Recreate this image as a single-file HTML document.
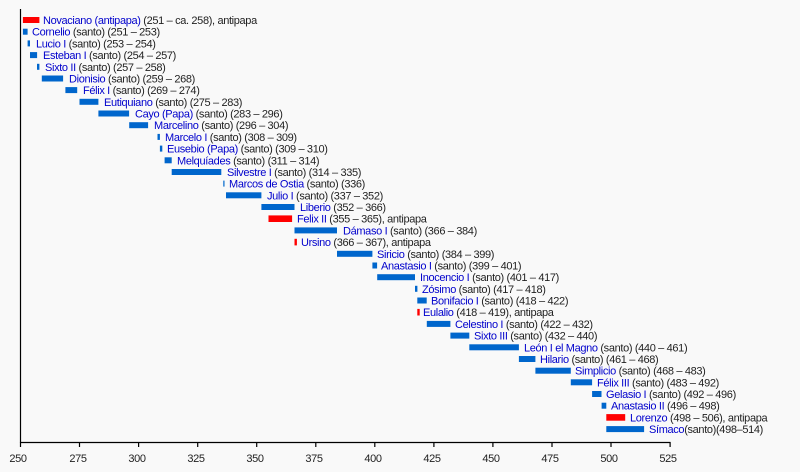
<!DOCTYPE html>
<html><head><meta charset="utf-8"><style>
body{margin:0;background:#f9f9f9}
svg{display:block}
text{font-family:"Liberation Sans",Arial,sans-serif;font-size:11px;letter-spacing:-0.35px;fill:#222}
tspan.n{fill:#0000cc}
.b{fill:#0066cc}.r{fill:#ff0000}
.ax text{font-size:11px;text-anchor:middle;fill:#222}
</style></head><body>
<svg width="800" height="472" viewBox="0 0 800 472">
<rect width="800" height="472" fill="#f9f9f9"/>
<g>
<rect class="r" x="22.9" y="17" width="16.5" height="6"/><text x="43" y="24"><tspan class="n">Novaciano (antipapa)</tspan> (251 – ca. 258), antipapa</text>
<rect class="b" x="22.9" y="28.7" width="4.7" height="6"/><text x="32" y="35.7"><tspan class="n">Cornelio</tspan> (santo) (251 – 253)</text>
<rect class="b" x="27.6" y="40.4" width="2.4" height="6"/><text x="36" y="47.4"><tspan class="n">Lucio I</tspan> (santo) (253 – 254)</text>
<rect class="b" x="30" y="52.1" width="7.1" height="6"/><text x="43" y="59.1"><tspan class="n">Esteban I</tspan> (santo) (254 – 257)</text>
<rect class="b" x="37" y="63.8" width="2.4" height="6"/><text x="45" y="70.8"><tspan class="n">Sixto II</tspan> (santo) (257 – 258)</text>
<rect class="b" x="41.8" y="75.5" width="21.3" height="6"/><text x="69" y="82.5"><tspan class="n">Dionisio</tspan> (santo) (259 – 268)</text>
<rect class="b" x="65.4" y="87.1" width="11.8" height="6"/><text x="83" y="94.1"><tspan class="n">Félix I</tspan> (santo) (269 – 274)</text>
<rect class="b" x="79.5" y="98.8" width="18.9" height="6"/><text x="104" y="105.8"><tspan class="n">Eutiquiano</tspan> (santo) (275 – 283)</text>
<rect class="b" x="98.4" y="110.5" width="30.7" height="6"/><text x="135" y="117.5"><tspan class="n">Cayo (Papa)</tspan> (santo) (283 – 296)</text>
<rect class="b" x="129.2" y="122.2" width="18.9" height="6"/><text x="154" y="129.2"><tspan class="n">Marcelino</tspan> (santo) (296 – 304)</text>
<rect class="b" x="157.5" y="133.9" width="2.4" height="6"/><text x="165" y="140.9"><tspan class="n">Marcelo I</tspan> (santo) (308 – 309)</text>
<rect class="b" x="159.9" y="145.6" width="2.4" height="6"/><text x="167" y="152.6"><tspan class="n">Eusebio (Papa)</tspan> (santo) (309 – 310)</text>
<rect class="b" x="164.6" y="157.3" width="7.1" height="6"/><text x="177" y="164.3"><tspan class="n">Melquíades</tspan> (santo) (311 – 314)</text>
<rect class="b" x="171.7" y="169" width="49.6" height="6"/><text x="227" y="176"><tspan class="n">Silvestre I</tspan> (santo) (314 – 335)</text>
<rect class="b" x="223.3" y="180.6" width="1.2" height="6"/><text x="229" y="187.6"><tspan class="n">Marcos de Ostia</tspan> (santo) (336)</text>
<rect class="b" x="226" y="192.3" width="35.4" height="6"/><text x="267" y="199.3"><tspan class="n">Julio I</tspan> (santo) (337 – 352)</text>
<rect class="b" x="261.4" y="204" width="33.1" height="6"/><text x="300" y="211"><tspan class="n">Liberio</tspan> (352 – 366)</text>
<rect class="r" x="268.5" y="215.4" width="23.6" height="6.6"/><text x="297" y="222.7"><tspan class="n">Felix II</tspan> (355 – 365), antipapa</text>
<rect class="b" x="294.5" y="227.4" width="42.5" height="6"/><text x="343" y="234.4"><tspan class="n">Dámaso I</tspan> (santo) (366 – 384)</text>
<rect class="r" x="294.5" y="238.8" width="2.4" height="6.6"/><text x="301" y="246.1"><tspan class="n">Ursino</tspan> (366 – 367), antipapa</text>
<rect class="b" x="337" y="250.8" width="35.4" height="6"/><text x="377" y="257.8"><tspan class="n">Siricio</tspan> (santo) (384 – 399)</text>
<rect class="b" x="372.4" y="262.5" width="4.7" height="6"/><text x="381" y="269.5"><tspan class="n">Anastasio I</tspan>  (santo) (399 – 401)</text>
<rect class="b" x="377.2" y="274.2" width="37.8" height="6"/><text x="420" y="281.2"><tspan class="n">Inocencio I</tspan>  (santo) (401 – 417)</text>
<rect class="b" x="415" y="285.8" width="2.4" height="6"/><text x="422" y="292.8"><tspan class="n">Zósimo</tspan> (santo) (417 – 418)</text>
<rect class="b" x="417.3" y="297.5" width="9.4" height="6"/><text x="431" y="304.5"><tspan class="n">Bonifacio I</tspan> (santo) (418 – 422)</text>
<rect class="r" x="417.3" y="308.9" width="2.4" height="6.6"/><text x="423" y="316.2"><tspan class="n">Eulalio</tspan> (418 – 419), antipapa</text>
<rect class="b" x="426.8" y="320.9" width="23.6" height="6"/><text x="455" y="327.9"><tspan class="n">Celestino I</tspan> (santo) (422 – 432)</text>
<rect class="b" x="450.4" y="332.6" width="18.9" height="6"/><text x="474" y="339.6"><tspan class="n">Sixto III</tspan> (santo) (432 – 440)</text>
<rect class="b" x="469.3" y="344.3" width="49.6" height="6"/><text x="524" y="351.3"><tspan class="n">León I el Magno</tspan> (santo) (440 – 461)</text>
<rect class="b" x="518.9" y="356" width="16.5" height="6"/><text x="540" y="363"><tspan class="n">Hilario</tspan> (santo) (461 – 468)</text>
<rect class="b" x="535.4" y="367.7" width="35.4" height="6"/><text x="575" y="374.7"><tspan class="n">Simplicio</tspan> (santo) (468 – 483)</text>
<rect class="b" x="570.8" y="379.3" width="21.3" height="6"/><text x="597" y="386.3"><tspan class="n">Félix III</tspan> (santo) (483 – 492)</text>
<rect class="b" x="592.1" y="391" width="9.4" height="6"/><text x="606" y="398"><tspan class="n">Gelasio I</tspan> (santo) (492 – 496)</text>
<rect class="b" x="601.6" y="402.7" width="4.7" height="6"/><text x="611" y="409.7"><tspan class="n">Anastasio II</tspan> (496 – 498)</text>
<rect class="r" x="606.3" y="414.1" width="18.9" height="6.6"/><text x="630" y="421.4"><tspan class="n">Lorenzo</tspan> (498 – 506), antipapa</text>
<rect class="b" x="606.3" y="426.1" width="37.8" height="6"/><text x="649" y="433.1"><tspan class="n">Símaco</tspan>(santo)(498–514)</text>
</g>
<g stroke="#000" stroke-width="1.2">
<line x1="20.5" y1="9" x2="20.5" y2="442.5"/>
<line x1="20" y1="442.5" x2="670.5" y2="442.5"/>
<line x1="20.5" y1="442" x2="20.5" y2="447"/><line x1="79.5" y1="442" x2="79.5" y2="447"/><line x1="138.6" y1="442" x2="138.6" y2="447"/><line x1="197.7" y1="442" x2="197.7" y2="447"/><line x1="256.7" y1="442" x2="256.7" y2="447"/><line x1="315.8" y1="442" x2="315.8" y2="447"/><line x1="374.8" y1="442" x2="374.8" y2="447"/><line x1="433.9" y1="442" x2="433.9" y2="447"/><line x1="492.9" y1="442" x2="492.9" y2="447"/><line x1="552" y1="442" x2="552" y2="447"/><line x1="611" y1="442" x2="611" y2="447"/><line x1="670.1" y1="442" x2="670.1" y2="447"/>
</g>
<g class="ax">
<text x="18" y="462">250</text><text x="78" y="462">275</text><text x="137" y="462">300</text><text x="196" y="462">325</text><text x="255" y="462">350</text><text x="314" y="462">375</text><text x="373" y="462">400</text><text x="432" y="462">425</text><text x="491" y="462">450</text><text x="550" y="462">475</text><text x="609" y="462">500</text><text x="668" y="462">525</text>
</g>
</svg>
</body></html>
